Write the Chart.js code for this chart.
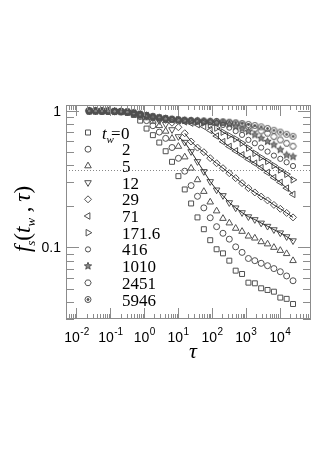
<!DOCTYPE html>
<html>
<head>
<meta charset="utf-8">
<script src="https://cdn.jsdelivr.net/npm/chart.js@4.4.1/dist/chart.umd.min.js"></script>
<style>
  html, body { margin: 0; padding: 0; background: #fff; }
  #chart { display: block; }
</style>
</head>
<body>
<canvas id="chart" width="327" height="463"></canvas>
<script>
// lag times tau, common to all waiting times
const TAU = [0.0238, 0.0366, 0.0565, 0.0871, 0.134, 0.207, 0.319, 0.492, 0.759, 1.17,
             1.80, 2.78, 4.29, 6.61, 10.2, 15.7, 24.2, 37.3, 57.5, 88.7,
             137, 211, 325, 501, 773, 1190, 1840, 2830, 4370, 6730,
             10400, 16000, 24700];

// f_s(t_w, tau) for each waiting time t_w
const F_TW0 = [1.0, 1.0, 0.998, 0.996, 0.993, 0.988, 0.975, 0.935, 0.85, 0.743,
               0.665, 0.587, 0.507, 0.424, 0.333, 0.266, 0.21, 0.166, 0.136, 0.113,
               0.097, 0.0905, 0.08, 0.0676, 0.0639, 0.0552, 0.0546, 0.0502, 0.0488, 0.0474,
               0.0429, 0.042, 0.0385];
const F_TW2 = [1.0, 1.0, 0.998, 0.996, 0.993, 0.99, 0.98, 0.955, 0.91, 0.85,
               0.78, 0.70, 0.63, 0.54, 0.45, 0.362, 0.284, 0.237, 0.195, 0.165,
               0.142, 0.127, 0.115, 0.101, 0.092, 0.083, 0.080, 0.0765, 0.0735, 0.070,
               0.0664, 0.0618, 0.057];
const F_TW5 = [1.0, 1.0, 0.998, 0.996, 0.993, 0.99, 0.982, 0.962, 0.93, 0.89,
               0.84, 0.78, 0.71, 0.63, 0.55, 0.46, 0.381, 0.313, 0.257, 0.215,
               0.185, 0.163, 0.151, 0.138, 0.131, 0.121, 0.117, 0.110, 0.106, 0.100,
               0.095, 0.090, 0.080];
const F_TW12 = [1.0, 1.0, 0.998, 0.996, 0.993, 0.99, 0.982, 0.964, 0.94, 0.915,
                0.89, 0.85, 0.80, 0.73, 0.649, 0.59, 0.504, 0.426, 0.36, 0.304,
                0.264, 0.24, 0.213, 0.195, 0.18, 0.168, 0.16, 0.151, 0.143, 0.135,
                0.128, 0.12, 0.112];
const F_TW29 = [1.0, 1.0, 0.998, 0.996, 0.993, 0.99, 0.982, 0.965, 0.945, 0.925,
                0.905, 0.885, 0.86, 0.82, 0.76, 0.687, 0.597, 0.539, 0.499, 0.451,
                0.414, 0.381, 0.35, 0.322, 0.296, 0.272, 0.253, 0.236, 0.221, 0.205,
                0.192, 0.179, 0.166];
const F_TW71 = [1.0, 1.0, 0.998, 0.996, 0.993, 0.99, 0.982, 0.965, 0.945, 0.925,
                0.905, 0.89, 0.876, 0.862, 0.848, 0.833, 0.815, 0.795, 0.77, 0.72,
                0.655, 0.595, 0.549, 0.51, 0.477, 0.443, 0.414, 0.385, 0.354, 0.325,
                0.30, 0.272, 0.245];
const F_TW172 = [1.0, 1.0, 0.998, 0.996, 0.993, 0.99, 0.982, 0.965, 0.945, 0.925,
                 0.905, 0.89, 0.878, 0.868, 0.86, 0.852, 0.843, 0.833, 0.818, 0.79,
                 0.75, 0.70, 0.66, 0.624, 0.582, 0.535, 0.49, 0.456, 0.428, 0.398,
                 0.37, 0.344, 0.313];
const F_TW416 = [1.0, 1.0, 0.998, 0.996, 0.993, 0.99, 0.982, 0.965, 0.945, 0.925,
                 0.905, 0.89, 0.878, 0.868, 0.86, 0.853, 0.847, 0.841, 0.835, 0.828,
                 0.815, 0.79, 0.755, 0.712, 0.668, 0.614, 0.58, 0.539, 0.504, 0.471,
                 0.446, 0.421, 0.395];
const F_TW1010 = [1.0, 1.0, 0.998, 0.996, 0.993, 0.99, 0.982, 0.965, 0.945, 0.925,
                  0.905, 0.89, 0.878, 0.868, 0.86, 0.853, 0.847, 0.842, 0.837, 0.832,
                  0.826, 0.815, 0.797, 0.768, 0.739, 0.706, 0.668, 0.631, 0.597, 0.565,
                  0.52, 0.475, 0.462];
const F_TW2451 = [1.0, 1.0, 0.998, 0.996, 0.993, 0.99, 0.982, 0.965, 0.945, 0.925,
                  0.905, 0.89, 0.878, 0.868, 0.86, 0.854, 0.849, 0.845, 0.841, 0.837,
                  0.833, 0.826, 0.817, 0.806, 0.79, 0.765, 0.739, 0.714, 0.687, 0.649,
                  0.614, 0.58, 0.552];
const F_TW5946 = [1.0, 1.0, 0.998, 0.996, 0.993, 0.99, 0.982, 0.965, 0.945, 0.925,
                  0.905, 0.89, 0.878, 0.868, 0.86, 0.855, 0.85, 0.846, 0.843, 0.84,
                  0.837, 0.833, 0.828, 0.82, 0.81, 0.797, 0.783, 0.765, 0.745, 0.722,
                  0.70, 0.675, 0.652];

const TW_LABELS = ['0', '2', '5', '12', '29', '71', '171.6', '416', '1010', '2451', '5946'];
const SERIES = [F_TW0, F_TW2, F_TW5, F_TW12, F_TW29, F_TW71, F_TW172, F_TW416, F_TW1010, F_TW2451, F_TW5946];
const SHAPES = ['square', 'circle', 'triUp', 'triDown', 'diamond', 'triLeft', 'triRight',
                'smallCircle', 'star', 'hexagon', 'dotCircle'];
// first tau index of the solid line drawn through a series
const FIT_START = { 3: 14, 4: 15, 5: 19, 6: 20 };

const X_DECADES = [-2, -1, 0, 1, 2, 3, 4];
const Y_LABELS = [1, 0.1];
const E_INV = 0.368;

const X_MIN = 0.0049, X_MAX = 83800;
const Y_MIN = 0.0299, Y_MAX = 1.106;

const INK = '#505050';
const FRAME = '#8c8c8c';
const SERIF = '"Liberation Serif", "Times New Roman", serif';
const SANS = '"Liberation Sans", Arial, sans-serif';

// built-in Chart.js point styles where one exists
const BUILTIN = {
    square: { pointStyle: 'rect', radius: 3.5, rotation: 0 },
    circle: { pointStyle: 'circle', radius: 3, rotation: 0 },
    smallCircle: { pointStyle: 'circle', radius: 2.6, rotation: 0 },
    triUp: { pointStyle: 'triangle', radius: 3.8, rotation: 0 },
    triDown: { pointStyle: 'triangle', radius: 3.8, rotation: 180 },
    triLeft: { pointStyle: 'triangle', radius: 3.8, rotation: 270 },
    triRight: { pointStyle: 'triangle', radius: 3.8, rotation: 90 },
    diamond: { pointStyle: 'rectRot', radius: 3.5, rotation: 0 }
};

// Function to draw one marker outline (legend and custom point images)
function drawMarker(ctx, shape, x, y) {
    const tri = (rot, r) => {
        for (let i = 0; i < 3; i++) {
            const a = (rot + i * 120) * Math.PI / 180;
            const px = x + Math.sin(a) * r, py = y - Math.cos(a) * r;
            if (i === 0) ctx.moveTo(px, py); else ctx.lineTo(px, py);
        }
        ctx.closePath();
    };
    ctx.save();
    ctx.strokeStyle = INK;
    ctx.fillStyle = INK;
    ctx.lineWidth = 1;
    ctx.beginPath();
    switch (shape) {
        case 'square': ctx.rect(x - 2.5, y - 2.5, 5, 5); break;
        case 'circle': ctx.arc(x, y, 3, 0, 2 * Math.PI); break;
        case 'smallCircle': ctx.arc(x, y, 2.6, 0, 2 * Math.PI); break;
        case 'triUp': tri(0, 3.8); break;
        case 'triDown': tri(180, 3.8); break;
        case 'triLeft': tri(270, 3.8); break;
        case 'triRight': tri(90, 3.8); break;
        case 'diamond':
            ctx.moveTo(x, y - 3.5); ctx.lineTo(x + 3.5, y);
            ctx.lineTo(x, y + 3.5); ctx.lineTo(x - 3.5, y); ctx.closePath();
            break;
        case 'hexagon':
            for (let i = 0; i < 6; i++) {
                const a = i * Math.PI / 3;
                const px = x + Math.cos(a) * 3.2, py = y + Math.sin(a) * 3.2;
                if (i === 0) ctx.moveTo(px, py); else ctx.lineTo(px, py);
            }
            ctx.closePath();
            break;
        case 'star':
            for (let i = 0; i < 10; i++) {
                const a = i * Math.PI / 5;
                const r = i % 2 === 0 ? 3.8 : 1.6;
                const px = x + Math.sin(a) * r, py = y - Math.cos(a) * r;
                if (i === 0) ctx.moveTo(px, py); else ctx.lineTo(px, py);
            }
            ctx.closePath();
            ctx.fillStyle = '#888';
            ctx.fill();
            break;
        case 'dotCircle':
            ctx.arc(x, y, 3, 0, 2 * Math.PI);
            ctx.stroke();
            ctx.beginPath();
            ctx.arc(x, y, 1, 0, 2 * Math.PI);
            ctx.fill();
            break;
    }
    ctx.stroke();
    ctx.restore();
}

function markerImage(shape) {
    const c = document.createElement('canvas');
    c.width = 11; c.height = 11;
    drawMarker(c.getContext('2d'), shape, 5.5, 5.5);
    return c;
}

const datasets = [];
Object.keys(FIT_START).forEach(si => {
    const f = SERIES[si];
    datasets.push({
        data: TAU.slice(FIT_START[si]).map((t, i) => ({ x: t, y: f[FIT_START[si] + i] })),
        showLine: true,
        borderColor: '#2a2a2a',
        borderWidth: 1,
        pointRadius: 0,
        fill: false
    });
});
SERIES.forEach((f, si) => {
    const b = BUILTIN[SHAPES[si]];
    datasets.push({
        label: 't_w = ' + TW_LABELS[si],
        data: TAU.map((t, i) => ({ x: t, y: f[i] })),
        pointStyle: b ? b.pointStyle : markerImage(SHAPES[si]),
        pointRadius: b ? b.radius : 3,
        pointRotation: b ? b.rotation : 0,
        pointBorderColor: INK,
        pointBackgroundColor: 'rgba(0,0,0,0)',
        pointBorderWidth: 1,
        showLine: false
    });
});

// Function to draw a "10^n" label
function drawPowerLabel(ctx, x, y, exp) {
    ctx.font = '14px ' + SANS;
    const wBase = ctx.measureText('10').width;
    ctx.font = '10px ' + SANS;
    const wExp = ctx.measureText(String(exp)).width;
    const x0 = x - (wBase + wExp) / 2;
    ctx.font = '14px ' + SANS;
    ctx.fillText('10', x0, y);
    ctx.font = '10px ' + SANS;
    ctx.fillText(String(exp), x0 + wBase + 0.5, y - 7.5);
}

const framePlugin = {
    id: 'frame',
    beforeDatasetsDraw(chart) {
        const { ctx, chartArea: a, scales } = chart;
        const y = Math.round(scales.y.getPixelForValue(E_INV)) + 0.5;
        ctx.save();
        ctx.strokeStyle = '#888';
        ctx.lineWidth = 1;
        ctx.setLineDash([1, 2]);
        ctx.beginPath();
        ctx.moveTo(a.left, y);
        ctx.lineTo(a.right, y);
        ctx.stroke();
        ctx.restore();
    },
    afterDraw(chart) {
        const { ctx, chartArea: a, scales } = chart;
        const xs = scales.x, ys = scales.y;
        ctx.save();

        // frame
        ctx.strokeStyle = FRAME;
        ctx.lineWidth = 1;
        ctx.strokeRect(a.left + 0.5, a.top + 0.5, a.right - a.left - 1, a.bottom - a.top - 1);

        // x ticks on bottom and top
        ctx.beginPath();
        for (let d = -3; d <= 5; d++) {
            for (let m = 1; m <= 9; m++) {
                const v = m * Math.pow(10, d);
                if (v < X_MIN || v > X_MAX) continue;
                const px = Math.round(xs.getPixelForValue(v)) + 0.5;
                const len = m === 1 ? 11 : 5;
                ctx.moveTo(px, a.bottom); ctx.lineTo(px, a.bottom - len);
                ctx.moveTo(px, a.top); ctx.lineTo(px, a.top + len);
            }
        }
        // y ticks on left and right
        for (let d = -2; d <= 0; d++) {
            for (let m = 1; m <= 9; m++) {
                const v = m * Math.pow(10, d);
                if (v < Y_MIN || v > Y_MAX) continue;
                const py = Math.round(ys.getPixelForValue(v)) + 0.5;
                const len = m === 1 ? 13 : 8;
                ctx.moveTo(a.left, py); ctx.lineTo(a.left + len, py);
                ctx.moveTo(a.right, py); ctx.lineTo(a.right - len, py);
            }
        }
        ctx.stroke();

        // tick labels
        ctx.fillStyle = '#000';
        ctx.textBaseline = 'alphabetic';
        ctx.textAlign = 'left';
        X_DECADES.forEach(d => drawPowerLabel(ctx, xs.getPixelForValue(Math.pow(10, d)), 342, d));
        ctx.font = '14px ' + SANS;
        ctx.textAlign = 'right';
        Y_LABELS.forEach(v => ctx.fillText(String(v), 61, ys.getPixelForValue(v) + 5));

        // x title
        ctx.textAlign = 'center';
        ctx.font = 'italic 22px ' + SERIF;
        ctx.fillText('\u03c4', 193, 358);

        // y title f_s(t_w , tau)
        const parts = [
            ['f', 'italic 23px', 0], ['s', 'italic 13px', 5], ['(', '23px', 0],
            ['t', 'italic 23px', 0], ['w', 'italic 13px', 5], [' ,', '23px', 0],
            ['\u2009', '23px', 0], ['\u03c4', 'italic 23px', 0], [')', '23px', 0]
        ];
        let total = 0;
        parts.forEach(p => { ctx.font = p[1] + ' ' + SERIF; total += ctx.measureText(p[0]).width; });
        ctx.save();
        ctx.translate(30, 219);
        ctx.rotate(-Math.PI / 2);
        ctx.textAlign = 'left';
        let cx = -total / 2;
        parts.forEach(p => {
            ctx.font = p[1] + ' ' + SERIF;
            ctx.fillText(p[0], cx, p[2]);
            cx += ctx.measureText(p[0]).width;
        });
        ctx.restore();

        // legend
        ctx.textAlign = 'left';
        SHAPES.forEach((shape, i) => {
            const y = 132.5 + 16.7 * i;
            drawMarker(ctx, shape, 88, y);
            ctx.fillStyle = '#000';
            if (i === 0) {
                ctx.font = 'italic 17px ' + SERIF;
                ctx.fillText('t', 102, y + 6);
                ctx.font = 'italic 11px ' + SERIF;
                ctx.fillText('w', 106.5, y + 10);
                ctx.font = '17px ' + SERIF;
                ctx.fillText('=', 111, y + 6);
                ctx.fillText(TW_LABELS[i], 121, y + 6);
            } else {
                ctx.font = '17px ' + SERIF;
                ctx.fillText(TW_LABELS[i], 122, y + 6);
            }
        });
        ctx.restore();
    }
};

new Chart(document.getElementById('chart'), {
    type: 'scatter',
    data: { datasets: datasets },
    options: {
        responsive: false,
        animation: false,
        layout: { padding: { left: 66, right: 16, top: 105, bottom: 144 } },
        plugins: { legend: { display: false }, tooltip: { enabled: false } },
        scales: {
            x: { type: 'logarithmic', min: X_MIN, max: X_MAX, display: false },
            y: { type: 'logarithmic', min: Y_MIN, max: Y_MAX, display: false }
        }
    },
    plugins: [framePlugin]
});
</script>
</body>
</html>
